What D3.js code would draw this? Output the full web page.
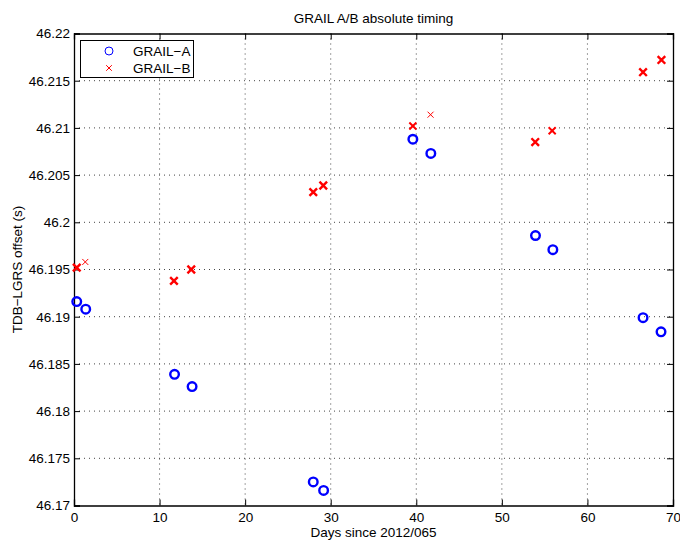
<!DOCTYPE html>
<html>
<head>
<meta charset="utf-8">
<script src="https://cdn.jsdelivr.net/npm/d3@7"></script>
<style>
  body { margin: 0; background: #fff; }
  text { font-family: "Liberation Sans", Arial, sans-serif; fill: #000; }
</style>
</head>
<body>
<svg id="chart"></svg>
<script>
// GRAIL-A timing offsets
const daysA = [0.32, 1.37, 11.75, 13.8, 27.96, 29.17, 39.6, 41.7, 53.93, 55.96, 66.5, 68.6];
const offsetA = [46.1916, 46.1908, 46.1839, 46.1826, 46.1725, 46.1716, 46.2088, 46.2073, 46.1986, 46.1971, 46.1899, 46.1884];
const passesA = [4, 4, 4, 4, 4, 4, 4, 4, 4, 4, 4, 4];
// GRAIL-B timing offsets
const daysB = [0.32, 1.32, 11.68, 13.7, 27.96, 29.13, 39.6, 41.67, 53.9, 55.88, 66.5, 68.65];
const offsetB = [46.1952, 46.1958, 46.1938, 46.1950, 46.2032, 46.2039, 46.2102, 46.2114, 46.2085, 46.2097, 46.2159, 46.2172];
const passesB = [4, 1, 4, 4, 4, 4, 3, 1, 4, 3, 4, 4];

const xTicks = [0, 10, 20, 30, 40, 50, 60, 70];
const yTicks = [46.17, 46.175, 46.18, 46.185, 46.19, 46.195, 46.2, 46.205, 46.21, 46.215, 46.22];

const width = 680, height = 540;
const marginLeft = 74, marginRight = 7, marginTop = 33.5, marginBottom = 34.5;
const fontSize = '13.5px';

const svg = d3.select('#chart')
  .attr('width', width)
  .attr('height', height);

const x = d3.scaleLinear().domain([0, 70]).range([marginLeft, width - marginRight]);
const y = d3.scaleLinear().domain([46.17, 46.22]).range([height - marginBottom, marginTop]);
const strokeW = d3.scaleLinear().domain([1, 4]).range([1, 2.4]);
const crossR = d3.scaleLinear().domain([1, 4]).range([3, 3.8]);

// grid
const grid = svg.append('g');
grid.selectAll('.vg').data(xTicks.slice(1, -1)).join('line')
  .attr('x1', d => x(d)).attr('x2', d => x(d))
  .attr('y1', y(46.22)).attr('y2', y(46.17))
  .attr('stroke', '#444').attr('stroke-width', 1).attr('stroke-dasharray', '1,4');
grid.selectAll('.hg').data(yTicks.slice(1, -1)).join('line')
  .attr('y1', d => y(d)).attr('y2', d => y(d))
  .attr('x1', x(0)).attr('x2', x(70))
  .attr('stroke', '#444').attr('stroke-width', 1).attr('stroke-dasharray', '1,4');

// axes (ticks inward, box on all sides)
svg.append('g')
  .attr('transform', `translate(0,${y(46.17)})`)
  .call(d3.axisBottom(x).tickValues(xTicks).tickSize(-6).tickPadding(7).tickFormat(d3.format('d')))
  .call(g => g.selectAll('text').style('font-size', fontSize));
svg.append('g')
  .attr('transform', `translate(0,${y(46.22)})`)
  .call(d3.axisTop(x).tickValues(xTicks).tickSize(-6).tickFormat(''));
svg.append('g')
  .attr('transform', `translate(${x(0)},0)`)
  .call(d3.axisLeft(y).tickValues(yTicks).tickSize(-6).tickPadding(4).tickFormat(d => String(+d.toFixed(3))))
  .call(g => g.selectAll('text').style('font-size', fontSize));
svg.append('g')
  .attr('transform', `translate(${x(70)},0)`)
  .call(d3.axisRight(y).tickValues(yTicks).tickSize(-6).tickFormat(''));
svg.selectAll('.domain').attr('stroke', '#000').attr('stroke-width', 1.3);
svg.selectAll('.tick line').attr('stroke', '#000');

// GRAIL-A circles
svg.append('g').selectAll('circle')
  .data(daysA.map((d, i) => ({ day: d, off: offsetA[i], n: passesA[i] })))
  .join('circle')
  .attr('cx', d => x(d.day))
  .attr('cy', d => y(d.off))
  .attr('r', 4.3)
  .attr('fill', 'none')
  .attr('stroke', '#0000ff')
  .attr('stroke-width', d => strokeW(d.n));

// GRAIL-B crosses
const crossPath = r => `M${-r},${-r}L${r},${r}M${-r},${r}L${r},${-r}`;
svg.append('g').selectAll('path')
  .data(daysB.map((d, i) => ({ day: d, off: offsetB[i], n: passesB[i] })))
  .join('path')
  .attr('transform', d => `translate(${x(d.day)},${y(d.off)})`)
  .attr('d', d => crossPath(crossR(d.n)))
  .attr('fill', 'none')
  .attr('stroke', '#ff0000')
  .attr('stroke-width', d => strokeW(d.n));

// legend
const legend = svg.append('g');
legend.append('rect')
  .attr('x', 80.5).attr('y', 40.5).attr('width', 113).attr('height', 37)
  .attr('fill', '#fff').attr('stroke', '#000').attr('stroke-width', 1);
legend.append('circle').attr('cx', 109).attr('cy', 51).attr('r', 4)
  .attr('fill', 'none').attr('stroke', '#0000ff').attr('stroke-width', 1);
legend.append('path').attr('transform', 'translate(109,68)').attr('d', crossPath(2.8))
  .attr('stroke', '#ff0000').attr('stroke-width', 1);
legend.append('text').attr('x', 133).attr('y', 56).text('GRAIL\u2212A').style('font-size', fontSize);
legend.append('text').attr('x', 133).attr('y', 73).text('GRAIL\u2212B').style('font-size', fontSize);

// titles
svg.append('text').attr('x', (x(0) + x(70)) / 2).attr('y', 23).attr('text-anchor', 'middle')
  .style('font-size', fontSize).text('GRAIL A/B absolute timing');
svg.append('text').attr('x', (x(0) + x(70)) / 2).attr('y', 536.5).attr('text-anchor', 'middle')
  .style('font-size', fontSize).text('Days since 2012/065');
svg.append('text').attr('transform', `translate(22,${(y(46.17) + y(46.22)) / 2}) rotate(-90)`)
  .attr('text-anchor', 'middle').style('font-size', fontSize).text('TDB\u2212LGRS offset (s)');
</script>
</body>
</html>
